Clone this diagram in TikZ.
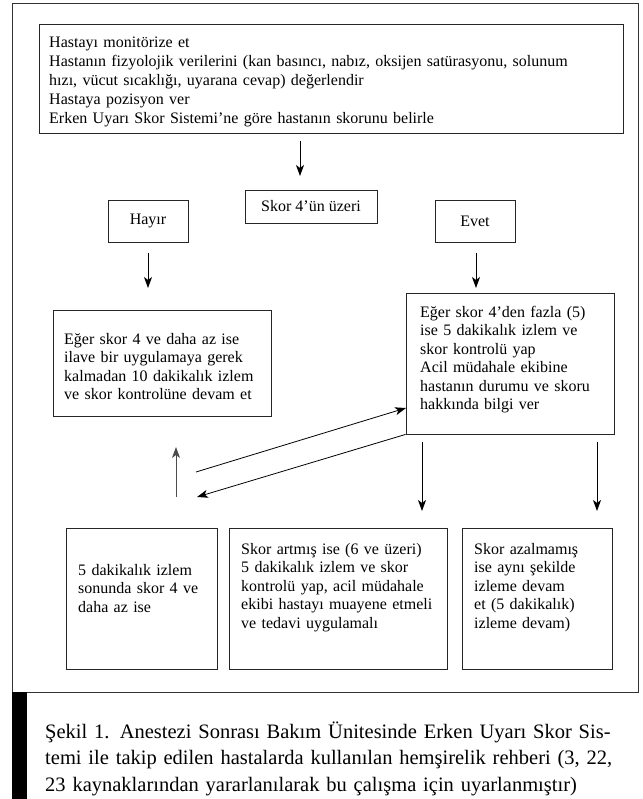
\documentclass[tikz,border=0pt]{standalone}
\usepackage{fontspec}
\setmainfont{Liberation Serif}
\usetikzlibrary{arrows.meta}
\begin{document}
\begin{tikzpicture}[x=1pt,y=-1pt,
  box/.style={draw=black!85, line width=0.8pt, inner sep=0pt},
  txt/.style={anchor=base west, inner sep=0pt, align=left, font=\fontsize{16}{18.5}\selectfont},
  ctxt/.style={inner sep=0pt, font=\fontsize{16}{18.5}\selectfont},
  arr/.style={line width=0.8pt, -{Stealth[length=11pt,width=8pt,inset=3pt]}},
  ]
\useasboundingbox (0,0) rectangle (642,799);
\node[draw=black!80, line width=0.8pt, inner sep=0pt, minimum width=626pt, minimum height=689pt] (frame) at (325,347.5) {};
\fill[black] (12,692) rectangle (27,799);

% top box
\node[box, minimum width=584pt, minimum height=109pt] (top) at (331,78.5) {};
\node[txt, text width=570pt, font=\fontsize{16}{18.8}\selectfont] (toptxt) at (49,48) {Hastayı monitörize et\\
Hastanın fizyolojik verilerini (kan basıncı, nabız, oksijen satürasyonu, solunum\\
hızı, vücut sıcaklığı, uyarana cevap) değerlendir\\
Hastaya pozisyon ver\\
Erken Uyarı Skor Sistemi’ne göre hastanın skorunu belirle};

% decision row
\node[box, ctxt, minimum width=132pt, minimum height=33pt] (skor) at (311,206.5) {Skor 4’ün üzeri};
\node[box, ctxt, minimum width=80pt, minimum height=42pt] (hayir) at (148,221) {Hayır};
\node[box, ctxt, minimum width=80pt, minimum height=42pt] (evet) at (475,221) {Evet};

% middle boxes
\node[box, minimum width=218pt, minimum height=106pt] (left) at (162,363) {};
\node[txt, text width=205pt] (lefttxt) at (64,344) {Eğer skor 4 ve daha az ise\\
ilave bir uygulamaya gerek\\
kalmadan 10 dakikalık izlem\\
ve skor kontrolüne devam et};

\node[box, minimum width=208pt, minimum height=141pt] (right) at (510,363.5) {};
\node[txt, text width=190pt] (righttxt) at (420,317) {Eğer skor 4’den fazla (5)\\
ise 5 dakikalık izlem ve\\
skor kontrolü yap\\
Acil müdahale ekibine\\
hastanın durumu ve skoru\\
hakkında bilgi ver};

% bottom boxes
\node[box, minimum width=151pt, minimum height=141pt] (b1) at (141.5,598.5) {};
\node[txt, text width=138pt] (b1txt) at (78,575) {5 dakikalık izlem\\
sonunda skor 4 ve\\
daha az ise};
\node[box, minimum width=218pt, minimum height=141pt] (b2) at (338,598.5) {};
\node[txt, text width=205pt] (b2txt) at (241,554) {Skor artmış ise (6 ve üzeri)\\
5 dakikalık izlem ve skor\\
kontrolü yap, acil müdahale\\
ekibi hastayı muayene etmeli\\
ve tedavi uygulamalı};
\node[box, minimum width=150pt, minimum height=141pt] (b3) at (537,598.5) {};
\node[txt, text width=136pt] (b3txt) at (474,554) {Skor azalmamış\\
ise aynı şekilde\\
izleme devam\\
et (5 dakikalık)\\
izleme devam)};

% arrow end points
\coordinate (a1s) at (300,141);
\coordinate (a1e) at (300,176);
\coordinate (a2s) at (148,253);
\coordinate (a2e) at (148,288);
\coordinate (a3s) at (476,253);
\coordinate (a3e) at (476,288);
\coordinate (ups) at (176,497);
\coordinate (upe) at (176,447);
\coordinate (d1s) at (196,472);
\coordinate (d1e) at (406,408);
\coordinate (d2e) at (197,497);
\coordinate (v1s) at (422,442);
\coordinate (v1e) at (422,511);
\coordinate (v2s) at (597,442);
\coordinate (v2e) at (597,511);

\draw[arr] (a1s) -- (a1e);
\draw[arr] (a2s) -- (a2e);
\draw[arr] (a3s) -- (a3e);
\draw[arr, draw=black!70] (ups) -- (upe);
\draw[arr] (d1s) -- (d1e);
\draw[arr] (right.south west) -- (d2e);
\draw[arr] (v1s) -- (v1e);
\draw[arr] (v2s) -- (v2e);

% caption
\node[anchor=base west, inner sep=0pt, align=left, text width=600pt, font=\fontsize{20.5}{26.5}\selectfont] (cap) at (45,738) {\makebox[584pt][s]{Şekil 1. Anestezi Sonrası Bakım Ünitesinde Erken Uyarı Skor Sis-}\\
\makebox[584pt][s]{temi ile takip edilen hastalarda kullanılan hemşirelik rehberi (3, 22,}\\
23 kaynaklarından yararlanılarak bu çalışma için uyarlanmıştır)};
\end{tikzpicture}
\end{document}
